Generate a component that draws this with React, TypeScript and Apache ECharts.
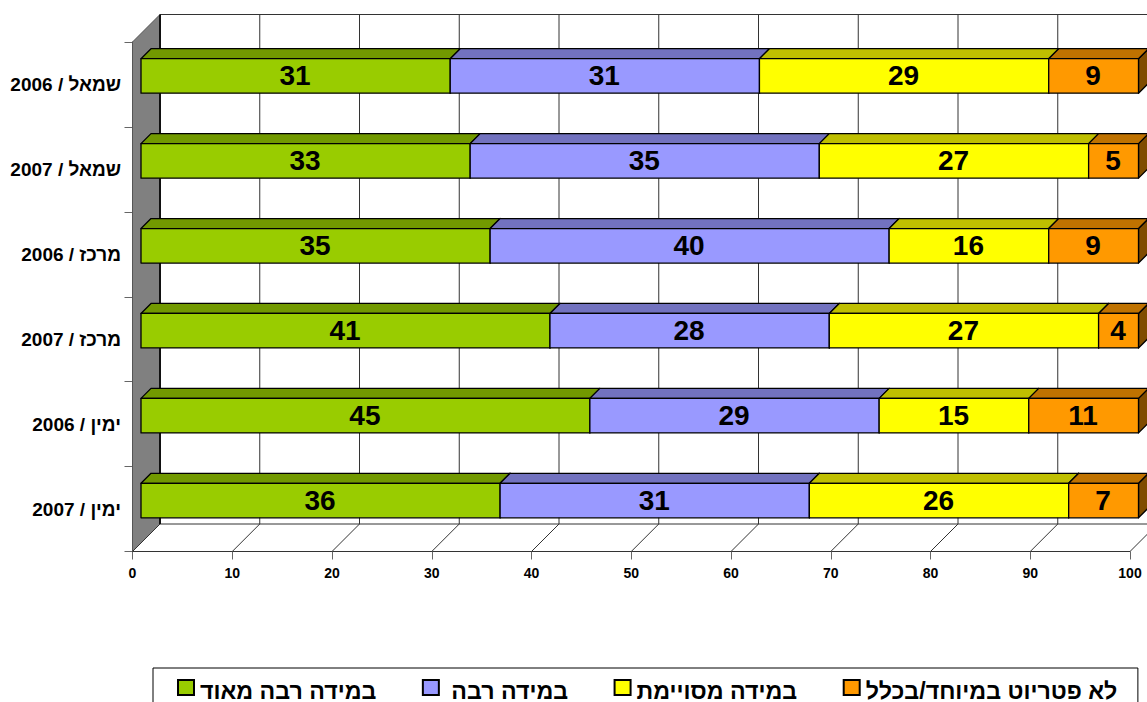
import React, { useEffect, useRef } from "react";
import * as echarts from "echarts";

const categories = [
  "שמאל / 2006",
  "שמאל / 2007",
  "מרכז / 2006",
  "מרכז / 2007",
  "ימין / 2006",
  "ימין / 2007",
];
const seriesNames = [
  "במידה רבה מאוד",
  "\u00A0במידה רבה",
  "במידה מסויימת",
  "לא פטריוט במיוחד/בכלל",
];
const veryMuch = [31, 33, 35, 41, 45, 36];
const much = [31, 35, 40, 28, 29, 31];
const somewhat = [29, 27, 16, 27, 15, 26];
const notAtAll = [9, 5, 9, 4, 11, 7];
const allValues = [veryMuch, much, somewhat, notAtAll];
const frontColors = ["#99CC00", "#9999FF", "#FFFF00", "#FF9900"];
const topColors = ["#729900", "#7272BF", "#BFBF00", "#BF7200"];
const sideColors = ["#4C6600", "#4C4C7F", "#7F7F00", "#7F4C00"];
const xTicks = [0, 10, 20, 30, 40, 50, 60, 70, 80, 90, 100];

const DEPTH = 27.5;
const BAR_SHIFT = 8.5;
const BAR_DEPTH = 10;
const BAR_HEIGHT = 34.5;
const LINE = "#333333";

function wallsRenderItem(params: any, api: any) {
  const cs = params.coordSys;
  const left = cs.x;
  const bottom = cs.y + cs.height;
  const top = cs.y;
  const children: any[] = [
    {
      type: "polygon",
      shape: {
        points: [
          [left, top],
          [left + DEPTH, top - DEPTH],
          [left + DEPTH, bottom - DEPTH],
          [left, bottom],
        ],
      },
      style: { fill: "#808080", stroke: "#555555", lineWidth: 1 },
    },
    {
      type: "line",
      shape: { x1: left + DEPTH, y1: top - DEPTH, x2: 1147, y2: top - DEPTH },
      style: { stroke: LINE, lineWidth: 1 },
    },
    {
      type: "line",
      shape: { x1: left + DEPTH, y1: bottom - DEPTH, x2: 1147, y2: bottom - DEPTH },
      style: { stroke: LINE, lineWidth: 1 },
    },
  ];
  xTicks.forEach((t, idx) => {
    const x = api.coord([t, 0])[0];
    children.push({
      type: "line",
      shape: { x1: x + DEPTH, y1: top - DEPTH, x2: x + DEPTH, y2: bottom - DEPTH },
      style: { stroke: idx === 0 ? "#111111" : LINE, lineWidth: idx === 0 ? 2 : 1 },
    });
    children.push({
      type: "line",
      shape: { x1: x + DEPTH, y1: bottom - DEPTH, x2: x, y2: bottom },
      style: { stroke: LINE, lineWidth: 1 },
    });
  });
  return { type: "group", children };
}

function barRenderItem(seriesIndex: number) {
  return (_params: any, api: any) => {
    const start = api.value(0);
    const cat = api.value(1);
    const val = api.value(2);
    const p0 = api.coord([start, cat]);
    const p1 = api.coord([start + val, cat]);
    const x0 = p0[0] + BAR_SHIFT;
    const x1 = p1[0] + BAR_SHIFT;
    const yc = p0[1] - BAR_SHIFT;
    const y0 = yc - BAR_HEIGHT / 2;
    const y1 = yc + BAR_HEIGHT / 2;
    const d = BAR_DEPTH;
    const stroke = { stroke: "#000000", lineWidth: 1.3, lineJoin: "round" };
    return {
      type: "group",
      children: [
        {
          type: "polygon",
          shape: { points: [[x1, y0], [x1 + d, y0 - d], [x1 + d, y1 - d], [x1, y1]] },
          style: { fill: sideColors[seriesIndex], ...stroke },
        },
        {
          type: "polygon",
          shape: { points: [[x0, y0], [x0 + d, y0 - d], [x1 + d, y0 - d], [x1, y0]] },
          style: { fill: topColors[seriesIndex], ...stroke },
        },
        {
          type: "rect",
          shape: { x: x0, y: y0, width: x1 - x0, height: y1 - y0 },
          style: { fill: frontColors[seriesIndex], ...stroke },
        },
        {
          type: "text",
          x: (x0 + x1) / 2 - 0.5,
          y: yc,
          style: {
            text: String(val),
            fill: "#000000",
            font: 'bold 28px "Liberation Sans", Arial, sans-serif',
            textAlign: "center",
            textVerticalAlign: "middle",
          },
        },
      ],
    };
  };
}

function buildSeriesData(index: number) {
  return categories.map((_c, i) => {
    let start = 0;
    for (let s = 0; s < index; s++) start += allValues[s][i];
    return [start, i, allValues[index][i]];
  });
}

export default function App() {
  const ref = useRef<HTMLDivElement>(null);
  useEffect(() => {
    if (!ref.current) return;
    const chart = echarts.init(ref.current, undefined, { renderer: "svg" });
    chart.setOption({
      animation: false,
      backgroundColor: "#ffffff",
      grid: { left: 132.5, top: 42, width: 997.5, height: 509.5, containLabel: false },
      xAxis: {
        type: "value",
        min: 0,
        max: 100,
        interval: 10,
        splitLine: { show: false },
        axisLine: { show: true, lineStyle: { color: LINE, width: 1 } },
        axisTick: { show: true, length: 8, lineStyle: { color: "#666666", width: 1 } },
        axisLabel: {
          color: "#000000",
          margin: 14,
          fontFamily: '"Liberation Sans", Arial, sans-serif',
          fontWeight: "bold",
          fontSize: 14,
        },
      },
      yAxis: {
        type: "category",
        inverse: true,
        data: categories,
        axisLine: { show: true, lineStyle: { color: "#666666", width: 1 } },
        axisTick: { show: true, length: 8, lineStyle: { color: "#666666", width: 1 } },
        axisLabel: {
          color: "#000000",
          margin: 11.5,
          fontFamily: '"Liberation Sans", Arial, sans-serif',
          fontWeight: "bold",
          fontSize: 19,
        },
      },
      legend: {
        left: 153,
        top: 668,
        width: 1100,
        orient: "horizontal",
        padding: [11, 20.5, 30, 24],
        itemGap: 45.5,
        itemWidth: 16,
        itemHeight: 21,
        icon: "path://M0 0H16V15H0Z M16 21L16 21",
        borderColor: "#000000",
        borderWidth: 1,
        data: seriesNames,
        textStyle: {
          color: "#000000",
          fontFamily: '"Liberation Sans", Arial, sans-serif',
          fontWeight: "bold",
          fontSize: 23.2,
          padding: [0, 0, 0, 1],
        },
      },
      series: [
        {
          type: "custom",
          name: "walls",
          silent: true,
          clip: false,
          z: 1,
          renderItem: wallsRenderItem,
          data: [[0, 0]],
          encode: { x: 0, y: 1 },
        },
        ...seriesNames.map((name, i) => ({
          type: "custom",
          name,
          clip: false,
          z: 3,
          renderItem: barRenderItem(i),
          itemStyle: { color: frontColors[i], borderColor: "#000000", borderWidth: 1.5 },
          encode: { x: [0], y: 1 },
          data: buildSeriesData(i),
        })),
      ],
    });
    return () => chart.dispose();
  }, []);
  return (
    <div
      ref={ref}
      style={{ position: "absolute", left: 0, top: 0, width: 1147, height: 702, overflow: "hidden" }}
    />
  );
}
